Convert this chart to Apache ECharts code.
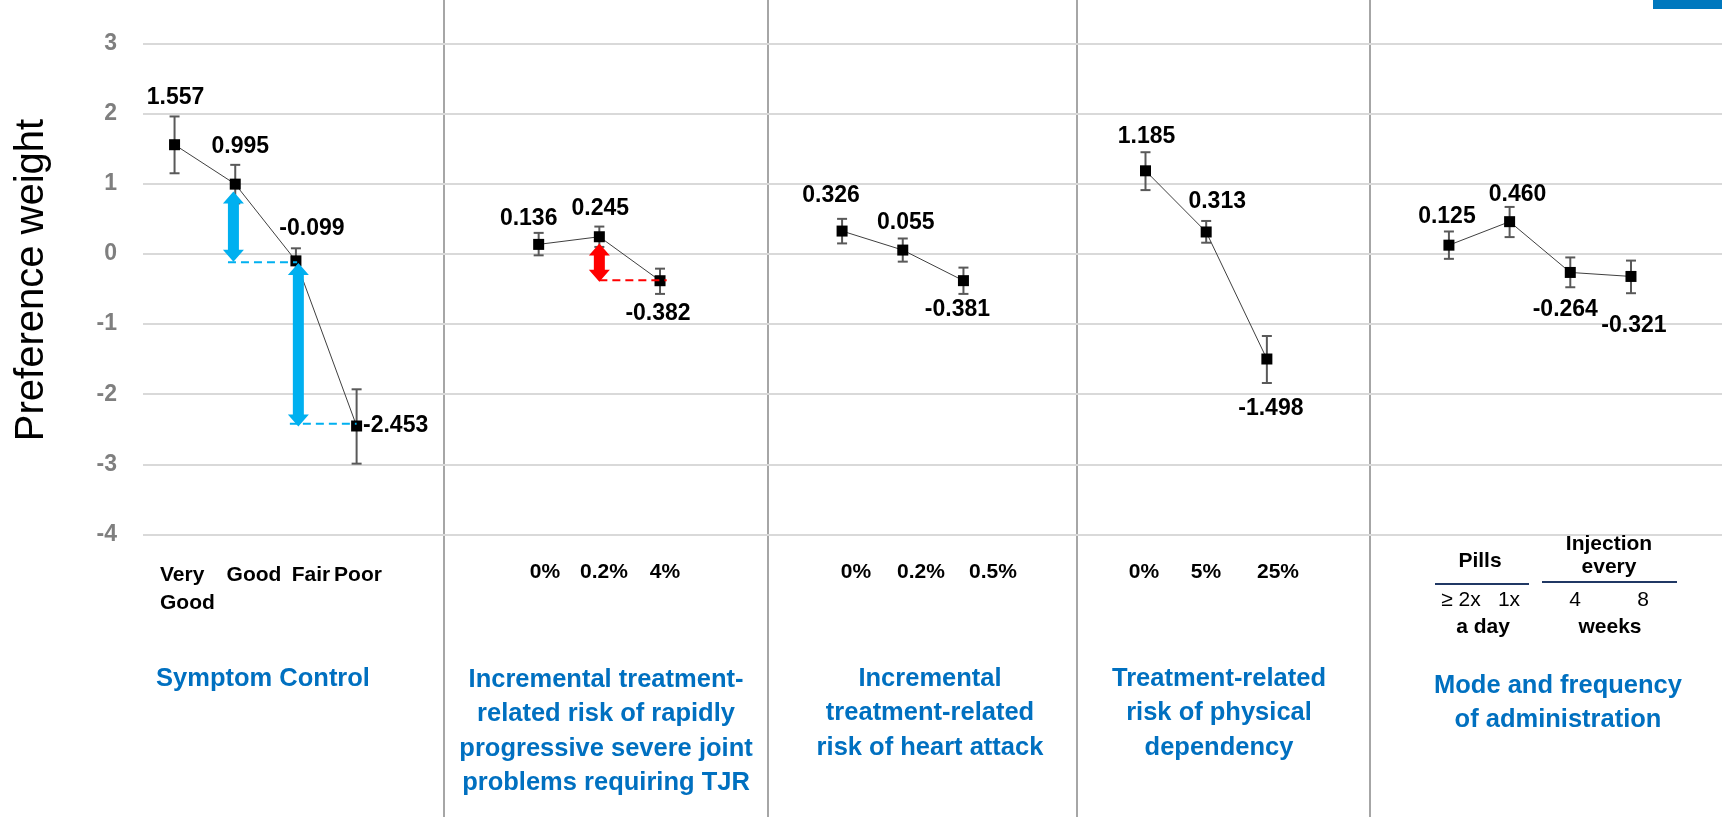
<!DOCTYPE html>
<html>
<head>
<meta charset="utf-8">
<script src="https://cdn.jsdelivr.net/npm/echarts@6/dist/echarts.min.js"></script>
<style>
  html, body { margin: 0; padding: 0; background: #fff; }
  #main { width: 1725px; height: 817px; }
</style>
</head>
<body>
<div id="main"></div>
<script>
// ---- data ----
var groupTitles = [
    'Symptom Control',
    'Incremental treatment-\nrelated risk of rapidly\nprogressive severe joint\nproblems requiring TJR',
    'Incremental\ntreatment-related\nrisk of heart attack',
    'Treatment-related\nrisk of physical\ndependency',
    'Mode and frequency\nof administration'
];
var levelLabels = [
    ['Very\nGood', 'Good', 'Fair', 'Poor'],
    ['0%', '0.2%', '4%'],
    ['0%', '0.2%', '0.5%'],
    ['0%', '5%', '25%'],
    ['\u2265 2x', '1x', '4', '8']
];
// slot on the x scale for every level (gaps separate the attributes)
var slots = [[0, 1, 2, 3], [6, 7, 8], [11, 12, 13], [16, 17, 18], [21, 22, 23, 24]];
var weights = [
    [1.557, 0.995, -0.099, -2.453],
    [0.136, 0.245, -0.382],
    [0.326, 0.055, -0.381],
    [1.185, 0.313, -1.498],
    [0.125, 0.460, -0.264, -0.321]
];
var ciLow = [
    [1.15, 0.72, -0.28, -2.99],
    [-0.02, 0.10, -0.57],
    [0.15, -0.11, -0.57],
    [0.91, 0.16, -1.84],
    [-0.07, 0.24, -0.475, -0.56]
];
var ciHigh = [
    [1.96, 1.27, 0.08, -1.93],
    [0.30, 0.39, -0.21],
    [0.50, 0.22, -0.195],
    [1.45, 0.47, -1.17],
    [0.32, 0.67, -0.05, -0.095]
];
// difference arrows: [slot, from, to]
var diffArrows = [[0.97, 0.89, -0.11], [2.04, -0.13, -2.46], [7.0, 0.15, -0.395]];
// dashed guides: [slotFrom, slotTo, value]
var guides = [[0.88, 2.02, -0.12], [1.9, 3.0, -2.42], [7.0, 8.11, -0.375]];

// ---- style / layout ----
var arrowColors = ['#00b0f0', '#00b0f0', '#ff0000'];
var labelOffsets = [
    [[1, -47], [5, -37], [16, -32], [39, 0]],
    [[-10, -26], [1, -28], [-2, 33]],
    [[-11, -35], [3, -27], [-6, 29]],
    [[1, -34], [11, -30], [4, 50]],
    [[-2, -29], [8, -27], [-5, 37], [3, 49]]
];
var levelPos = [
    [[160, 589, 'left'], [254, 575], [311, 575], [358, 575]],
    [[545, 572], [604, 572], [665, 572]],
    [[856, 572], [921, 572], [993, 572]],
    [[1144, 572], [1206, 572], [1278, 572]],
    [[1461, 600], [1509, 600], [1575, 600], [1643, 600]]
];
var titlePos = [[263, 679], [606, 731.5], [930, 713], [1219, 713], [1558, 703]];
var FS = "'Liberation Sans', Arial, sans-serif";
var BLUE = '#0070c0';

var myChart = echarts.init(document.getElementById('main'));

var series = [];

// error bars
var errData = [];
slots.forEach(function (s, g) {
    s.forEach(function (x, i) { errData.push([x, ciLow[g][i], ciHigh[g][i]]); });
});
series.push({
    type: 'custom',
    z: 1,
    silent: true,
    data: errData,
    renderItem: function (params, api) {
        var x = api.value(0);
        var lo = api.coord([x, api.value(1)]);
        var hi = api.coord([x, api.value(2)]);
        var st = { stroke: '#595959', lineWidth: 2 };
        return {
            type: 'group',
            children: [
                { type: 'line', shape: { x1: lo[0], y1: lo[1], x2: hi[0], y2: hi[1] }, style: st },
                { type: 'line', shape: { x1: lo[0] - 5, y1: lo[1], x2: lo[0] + 5, y2: lo[1] }, style: st },
                { type: 'line', shape: { x1: hi[0] - 5, y1: hi[1], x2: hi[0] + 5, y2: hi[1] }, style: st }
            ]
        };
    }
});

// one line per attribute
slots.forEach(function (s, g) {
    series.push({
        type: 'line',
        z: 3,
        symbol: 'rect',
        symbolSize: 11,
        itemStyle: { color: '#000' },
        lineStyle: { color: '#404040', width: 1 },
        label: {
            show: true,
            position: 'inside',
            fontFamily: FS,
            fontWeight: 'bold',
            fontSize: 23,
            color: '#000',
            formatter: function (p) { return p.value[1].toFixed(3); }
        },
        data: s.map(function (x, i) {
            return { value: [x, weights[g][i]], label: { offset: labelOffsets[g][i] } };
        })
    });
});

// dashed guides
series.push({
    type: 'custom',
    z: 4,
    silent: true,
    data: guides,
    renderItem: function (params, api) {
        var a = api.coord([api.value(0), api.value(2)]);
        var b = api.coord([api.value(1), api.value(2)]);
        return {
            type: 'line',
            shape: { x1: a[0], y1: a[1], x2: b[0], y2: b[1] },
            style: { stroke: arrowColors[params.dataIndex], lineWidth: 2, lineDash: [8, 5] }
        };
    }
});

// double-headed arrows
series.push({
    type: 'custom',
    z: 5,
    silent: true,
    data: diffArrows,
    renderItem: function (params, api) {
        var t = api.coord([api.value(0), api.value(1)]);
        var b = api.coord([api.value(0), api.value(2)]);
        var cx = t[0], s = 5.5, h = 10.5, L = 12;
        return {
            type: 'polygon',
            shape: {
                points: [
                    [cx, t[1]], [cx + h, t[1] + L], [cx + s, t[1] + L], [cx + s, b[1] - L],
                    [cx + h, b[1] - L], [cx, b[1]], [cx - h, b[1] - L], [cx - s, b[1] - L],
                    [cx - s, t[1] + L], [cx - h, t[1] + L]
                ]
            },
            style: { fill: arrowColors[params.dataIndex] }
        };
    }
});

// ---- texts around the plot ----
function txt(x, y, text, opt) {
    opt = opt || {};
    return {
        type: 'text', x: x, y: y, z: 10,
        style: {
            text: text,
            align: opt.align || 'center',
            verticalAlign: 'middle',
            fontFamily: FS,
            fontWeight: opt.weight || 'bold',
            fontSize: opt.size || 21,
            lineHeight: opt.lh || 28,
            fill: opt.color || '#000'
        }
    };
}
var graphics = [];
[444, 768, 1077, 1370].forEach(function (x) {
    graphics.push({ type: 'line', z: 0, shape: { x1: x, y1: 0, x2: x, y2: 817 }, style: { stroke: '#a6a6a6', lineWidth: 2 } });
});
graphics.push({ type: 'rect', shape: { x: 1653, y: 0, width: 69, height: 9 }, style: { fill: '#0078be' } });
graphics.push({
    type: 'text', x: 32, y: 280, rotation: Math.PI / 2,
    style: { text: 'Preference weight', align: 'center', verticalAlign: 'middle', fontFamily: FS, fontSize: 40, fill: '#000' }
});
// level labels
levelLabels.forEach(function (labs, g) {
    labs.forEach(function (t, i) {
        var p = levelPos[g][i];
        var last = g === levelLabels.length - 1;
        graphics.push(txt(p[0], p[1], t, {
            align: p[2],
            weight: last ? 'normal' : 'bold'
        }));
    });
});
graphics.push(txt(1480, 561, 'Pills'));
graphics.push(txt(1609, 556, 'Injection\nevery', { lh: 23 }));
graphics.push({ type: 'line', shape: { x1: 1435, y1: 584, x2: 1529, y2: 584 }, style: { stroke: '#203864', lineWidth: 2 } });
graphics.push({ type: 'line', shape: { x1: 1542, y1: 582, x2: 1677, y2: 582 }, style: { stroke: '#203864', lineWidth: 2 } });
graphics.push(txt(1483, 627, 'a day'));
graphics.push(txt(1610, 627, 'weeks'));
// attribute titles
titlePos.forEach(function (p, g) {
    graphics.push(txt(p[0], p[1], groupTitles[g], { size: 25.5, lh: 34.5, color: BLUE }));
});

option = {
    backgroundColor: '#fff',
    animation: false,
    grid: { left: 143, right: 3, top: 43.5, bottom: 282.5 },
    xAxis: { type: 'value', min: -0.52, max: 25.5, show: false },
    yAxis: {
        type: 'value',
        min: -4,
        max: 3,
        interval: 1,
        axisLine: { show: false },
        axisTick: { show: false },
        axisLabel: { margin: 26, color: '#7f7f7f', fontFamily: FS, fontWeight: 'bold', fontSize: 23 },
        splitLine: { lineStyle: { color: '#d9d9d9', width: 2 } }
    },
    graphic: graphics,
    series: series
};

myChart.setOption(option);
</script>
</body>
</html>
